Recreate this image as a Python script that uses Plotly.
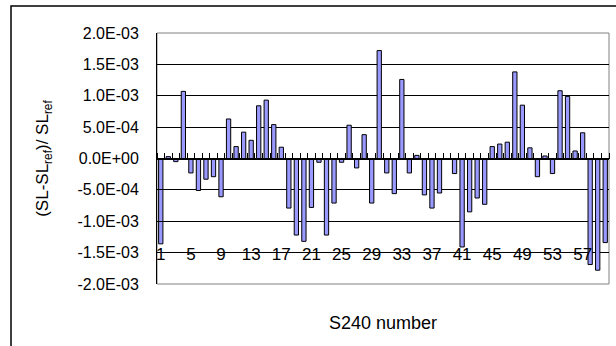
import plotly.graph_objects as go

# Relative deviation of SL for each S240 unit
s240_number = list(range(1, 61))
rel_dev = [
    -1.36e-3, 0.03e-3, -0.05e-3, 1.07e-3, -0.23e-3, -0.51e-3, -0.33e-3, -0.29e-3,
    -0.61e-3, 0.63e-3, 0.19e-3, 0.42e-3, 0.29e-3, 0.84e-3, 0.93e-3, 0.54e-3,
    0.18e-3, -0.79e-3, -1.22e-3, -1.32e-3, -0.78e-3, -0.06e-3, -1.22e-3, -0.71e-3,
    -0.06e-3, 0.53e-3, -0.15e-3, 0.38e-3, -0.71e-3, 1.72e-3, -0.23e-3, -0.56e-3,
    1.26e-3, -0.23e-3, 0.05e-3, -0.58e-3, -0.79e-3, -0.55e-3, -0.01e-3, -0.24e-3,
    -1.41e-3, -0.85e-3, -0.63e-3, -0.73e-3, 0.19e-3, 0.23e-3, 0.26e-3, 1.38e-3,
    0.85e-3, 0.17e-3, -0.29e-3, 0.04e-3, -0.24e-3, 1.08e-3, 0.99e-3, 0.12e-3,
    0.41e-3, -1.69e-3, -1.78e-3, -1.34e-3,
]

# Axis ticks
x_tick_vals = list(range(1, 61, 4))
x_tick_labels = [str(v) for v in x_tick_vals]
y_tick_vals = [-2e-3, -1.5e-3, -1e-3, -5e-4, 0.0, 5e-4, 1e-3, 1.5e-3, 2e-3]
y_tick_labels = [f"{v:.1E}" for v in y_tick_vals]

FONT = "Liberation Sans, Arial, sans-serif"
n = len(s240_number)
boundaries = [i + 0.5 for i in range(n + 1)]

fig = go.Figure(
    go.Bar(
        x=s240_number,
        y=rel_dev,
        width=0.57,
        marker=dict(color="#9999FF", line=dict(color="#000000", width=1)),
    )
)

fig.update_layout(
    width=616,
    height=346,
    margin=dict(l=157, r=7, t=33, b=62),
    paper_bgcolor="white",
    plot_bgcolor="white",
    showlegend=False,
    font=dict(family=FONT, size=16, color="black"),
    shapes=[
        # plot-area frame
        dict(type="rect", xref="paper", yref="paper", x0=0, x1=1, y0=0, y1=1,
             line=dict(color="#808080", width=1), layer="below"),
        # chart-area frame
        dict(type="rect", xref="paper", yref="paper", x0=-0.323, x1=1.2,
             y0=-0.5, y1=1.108, line=dict(color="#000000", width=1.5), layer="below"),
    ],
    annotations=[
        dict(text="S240 number", xref="paper", yref="paper", x=0.5, y=-0.155,
             xanchor="center", yanchor="middle", showarrow=False,
             font=dict(family=FONT, size=18, color="black")),
    ],
)

fig.update_xaxes(
    range=[0.5, n + 0.5],
    anchor="free",
    position=0.5,
    showline=True,
    linecolor="black",
    linewidth=1,
    showgrid=False,
    zeroline=False,
    tickmode="array",
    tickvals=x_tick_vals,
    ticktext=x_tick_labels,
    ticks="",
    ticklabelstandoff=80,
    minor=dict(tickmode="array", tickvals=boundaries, ticks="inside",
               ticklen=6, tickcolor="black", tickwidth=1, showgrid=False),
    tickfont=dict(family=FONT, size=17, color="black"),
)

fig.update_yaxes(
    range=[-2e-3, 2e-3],
    tickmode="array",
    tickvals=y_tick_vals,
    ticktext=y_tick_labels,
    showline=True,
    linecolor="black",
    linewidth=1,
    showgrid=True,
    gridcolor="black",
    gridwidth=1,
    zeroline=True,
    zerolinecolor="black",
    zerolinewidth=1,
    ticks="inside",
    ticklen=6,
    tickcolor="black",
    ticklabelstandoff=14,
    tickfont=dict(family=FONT, size=16, color="black"),
    title=dict(text="(SL-SL<sub>ref</sub>)/ SL<sub>ref</sub>",
               font=dict(family=FONT, size=17, color="black"), standoff=24),
)

fig.write_html("out.html")
